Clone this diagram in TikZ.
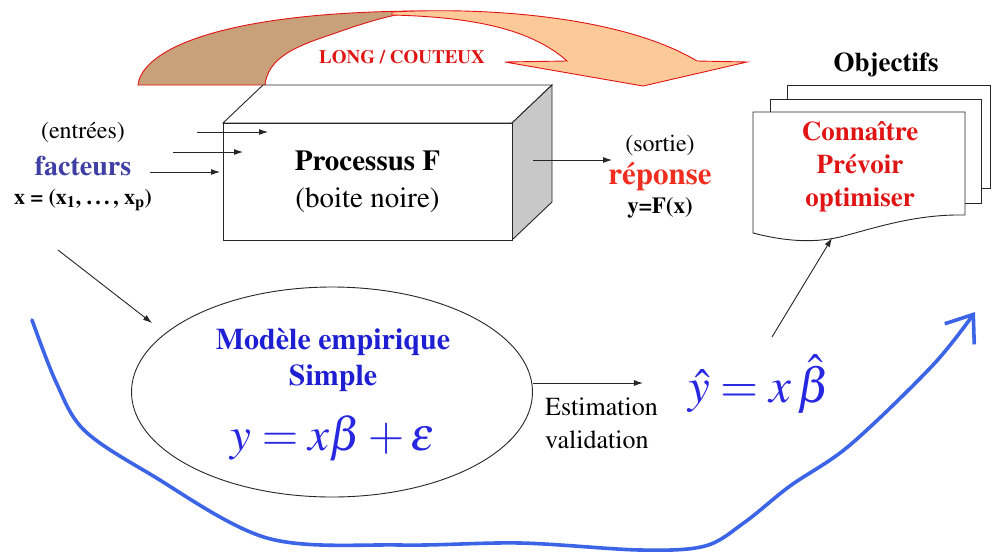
\documentclass[tikz,border=0pt]{standalone}
\usepackage[T1]{fontenc}
\usepackage{mathptmx}
\usetikzlibrary{shapes.geometric,arrows.meta}
\definecolor{facblue}{RGB}{62,62,165}
\definecolor{modblue}{RGB}{30,30,210}
\definecolor{mathblue}{RGB}{40,40,225}
\definecolor{loopblue}{RGB}{60,100,230}
\definecolor{myred}{RGB}{225,20,20}
\definecolor{repred}{RGB}{240,45,30}
\definecolor{brownfill}{RGB}{200,160,122}
\definecolor{orangefill}{RGB}{252,202,152}
\definecolor{sidegray}{RGB}{200,200,200}
\tikzset{
  arr/.style={draw=black!85, line width=0.9pt, -{Latex[length=9pt,width=6pt]}},
  pagebox/.style={draw=black!85, fill=white, line width=0.9pt, inner sep=0pt},
  lbl/.style={inner sep=0pt, align=center},
}
\begin{document}
\begin{tikzpicture}[x=1pt,y=-1pt]
\useasboundingbox[fill=white] (0,0) rectangle (992,555);

% ---- big curved arrow (LONG / COUTEUX)
\path[fill=brownfill, draw=myred, line width=0.9pt]
  (138,85) .. controls (142,50) and (220,12) .. (420,11)
  .. controls (390,14) and (355,26) .. (330,35)
  .. controls (290,48) and (268,60) .. (265,85) -- cycle;
\path[fill=orangefill, draw=myred, line width=0.9pt]
  (392,12) .. controls (480,7) and (620,15) .. (697,61)
  -- (747,62) -- (643,86) -- (505,62) -- (567,61)
  .. controls (530,28) and (470,17) .. (392,15) -- cycle;
\node[lbl, text=myred, font=\bfseries\fontsize{19}{21}\selectfont] (long) at (402,57) {LONG / COUTEUX};

% ---- black box
\path[draw=black!85, fill=white, line width=0.9pt] (223,123) -- (263,85) -- (552,85) -- (512,123) -- cycle;
\path[draw=black!85, fill=sidegray, line width=0.9pt] (512,123) -- (552,85) -- (552,202) -- (512,240) -- cycle;
\node[draw=black!85, fill=white, line width=0.9pt, minimum width=289pt, minimum height=117pt, inner sep=0pt,
      align=center, font=\fontsize{29}{37}\selectfont] (proc) at (367.5,181.5)
      {\textbf{Processus F}\\(boite noire)};

% ---- inputs
\node[lbl, font=\fontsize{24}{26}\selectfont] (entrees) at (83,133) {(entr\'ees)};
\node[lbl, text=facblue, font=\bfseries\fontsize{28}{30}\selectfont] (fact) at (83,166) {facteurs};
\node[lbl, font=\bfseries\fontsize{22}{24}\selectfont] (xvec) at (83,200) {x = (x\textsubscript{1}, \dots, x\textsubscript{p})};
\coordinate (i1s) at (197,132); \coordinate (i1e) at (268,132);
\coordinate (i2s) at (173,152); \coordinate (i2e) at (243,152);
\coordinate (i3s) at (150,172); \coordinate (i3e) at (220,172);
\draw[arr] (i1s) -- (i1e);
\draw[arr] (i2s) -- (i2e);
\draw[arr] (i3s) -- (i3e);

% ---- output
\coordinate (os) at (533,160); \coordinate (oe) at (612,160);
\draw[arr] (os) -- (oe);
\node[lbl, font=\fontsize{24}{26}\selectfont] (sortie) at (660,146) {(sortie)};
\node[lbl, text=repred, font=\bfseries\fontsize{31}{32}\selectfont] (rep) at (660,176) {r\'eponse};
\node[lbl, font=\bfseries\fontsize{23}{24}\selectfont] (yfx) at (660,208) {y=F(x)};

% ---- objectifs
\node[lbl, font=\bfseries\fontsize{27}{28}\selectfont] (obj) at (886,65) {Objectifs};
\node[pagebox, minimum width=203pt, minimum height=103pt] (p3) at (888.5,136.5) {};
\node[pagebox, minimum width=211pt, minimum height=104pt] (p2) at (875.5,151) {};
\path[draw=black!85, fill=white, line width=0.9pt]
  (753,112) -- (965,112) -- (965,215)
  .. controls (915,214) and (875,228) .. (840,237)
  .. controls (810,244) and (780,240) .. (753,233) -- cycle;
\node[lbl, text=myred, font=\bfseries\fontsize{27}{33}\selectfont] (goals) at (860,167) {Conna\^{\i}tre\\Pr\'evoir\\optimiser};
\coordinate (docb) at (832,238);

% ---- model ellipse
\node[draw=black!85, line width=0.9pt, ellipse, minimum width=401pt, minimum height=210pt, inner sep=0pt] (model) at (332,392) {};
\node[lbl, text=modblue, font=\bfseries\fontsize{30}{36}\selectfont] (modtxt) at (333,360) {Mod\`ele empirique\\Simple};
\node[lbl, text=mathblue, font=\fontsize{47}{50}\selectfont] (eq) at (333,438) {$y = x\beta + \epsilon$};
\coordinate (xs) at (58,250); \coordinate (xe) at (152,323);
\draw[arr] (xs) -- (xe);

% ---- estimation
\draw[arr] ([yshift=9pt]model.east) -- ++(110,0) coordinate (ee);
\node[lbl, align=left, anchor=west, font=\fontsize{26}{33}\selectfont] (est) at (545,423) {Estimation\\validation};
\node[lbl, text=mathblue, font=\fontsize{49}{52}\selectfont] (yhat) at (759,384) {$\hat{y} = x\,\hat{\beta}$};
\coordinate (ds) at (772,337);
\draw[arr] (ds) -- (docb);

% ---- blue loop arrow
\draw[loopblue, line width=3.6pt, line cap=round, line join=round,
      -{Straight Barb[length=24pt,width=36pt,line width=3.6pt]}]
  plot[smooth, tension=0.55] coordinates {(32,320) (56,382) (84,430) (150,474) (267,538) (400,545) (520,543) (640,550) (705,546) (745,522) (790,486) (850,445) (933,365) (975,312)};
\end{tikzpicture}
\end{document}
